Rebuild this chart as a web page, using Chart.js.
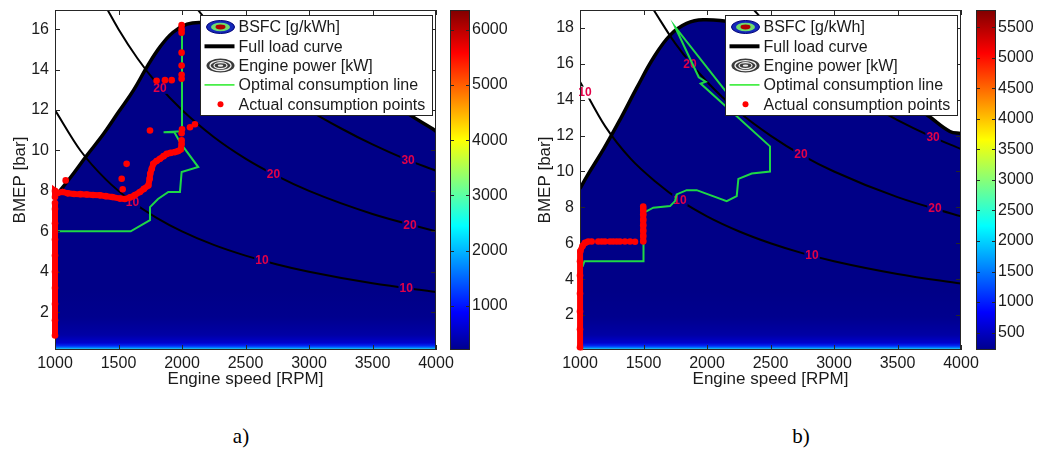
<!DOCTYPE html>
<html>
<head>
<meta charset="utf-8">
<title>BSFC maps</title>
<script src="https://cdn.jsdelivr.net/npm/chart.js@4.4.1/dist/chart.umd.min.js"></script>
<style>
  html, body { margin: 0; padding: 0; background: #fff; }
  #page { position: relative; width: 1037px; height: 458px; overflow: hidden; }
  canvas { position: absolute; top: 0; }
  .caption { position: absolute; top: 424px; width: 40px; text-align: center;
             font: 21px "Liberation Serif", "Times New Roman", serif; color: #000; }
</style>
</head>
<body>
<div id="page">
  <canvas id="mapA" width="460" height="400" style="left:0"></canvas>
  <canvas id="barA" width="90" height="400" style="left:440px"></canvas>
  <canvas id="mapB" width="460" height="400" style="left:525px"></canvas>
  <canvas id="barB" width="71" height="400" style="left:966px"></canvas>
  <div class="caption" style="left:221px">a)</div>
  <div class="caption" style="left:781px">b)</div>
</div>
<script>
// ---- axes ----
const rpmRange = [1000, 4000];
const rpmTicks = [1000, 1500, 2000, 2500, 3000, 3500, 4000];
const bmepRangeA = [0.13, 16.95];
const bmepTicksA = [2, 4, 6, 8, 10, 12, 14, 16];
const bmepRangeB = [0.05, 19.0];
const bmepTicksB = [2, 4, 6, 8, 10, 12, 14, 16, 18];
const bsfcRangeA = [200, 6360];
const bsfcTicksA = [1000, 2000, 3000, 4000, 5000, 6000];
const bsfcRangeB = [216, 5780];
const bsfcTicksB = [500, 1000, 1500, 2000, 2500, 3000, 3500, 4000, 4500, 5000, 5500];

const legendLabels = ['BSFC [g/kWh]', 'Full load curve', 'Engine power [kW]',
  'Optimal consumption line', 'Actual consumption points'];

// ---- engine a) ----  [rpm, bmep]
const fullLoadA = [[1000, 7.7], [1120, 8.65], [1250, 9.75], [1380, 10.8], [1500, 11.9], [1620, 13.0],
  [1730, 14.2], [1830, 15.15], [1930, 15.85], [2040, 16.25], [2150, 16.33], [2300, 16.2], [2600, 15.7],
  [3000, 14.8], [3400, 13.5], [3795, 11.76], [3966, 11.1], [4000, 10.95]];
const power10A = [[1000, 12.0], [1200, 10.0], [1400, 8.57], [1600, 7.5], [1800, 6.67], [2000, 6.0],
  [2250, 5.33], [2500, 4.8], [2750, 4.36], [3000, 4.0], [3500, 3.43], [4000, 3.0]];
const power20A = [[1410, 17.0], [1500, 16.0], [1650, 14.55], [1800, 13.33], [2000, 12.0], [2250, 10.67],
  [2500, 9.6], [2750, 8.73], [3000, 8.0], [3500, 6.86], [4000, 6.0]];
const power30A = [[2120, 17.0], [2250, 16.0], [2500, 14.4], [2750, 13.1], [3000, 12.0], [3250, 11.1],
  [3500, 10.3], [3750, 9.6], [4000, 9.0]];
const powerLabelsA = [[1610, 7.45, '10'], [2630, 4.56, '10'], [3765, 3.2, '10'],
  [1827, 13.1, '20'], [2720, 8.82, '20'], [3795, 6.32, '20'], [3780, 9.52, '30']];
const optimalA = [[1000, 6.0], [1596, 6.0], [1748, 6.55], [1748, 7.2], [1811, 7.6], [1892, 7.95],
  [1984, 7.95], [1997, 8.93], [2128, 9.18], [1990, 10.35], [1940, 10.9], [1855, 10.9], [2000, 10.95],
  [2000, 15.9]];
const actualRunA1 = [[1000, 0.85], [1000, 1.6], [1000, 2.4], [1000, 3.2], [1000, 4.0], [1000, 4.8],
  [1000, 5.6], [1000, 6.4], [1000, 7.1], [1000, 7.4]];
const actualRunA2 = [[1000, 7.7], [1000, 8.0], [1020, 7.9], [1060, 7.95], [1100, 7.88], [1150, 7.85],
  [1200, 7.84], [1250, 7.82], [1300, 7.8], [1354, 7.78], [1400, 7.74], [1450, 7.7], [1512, 7.62],
  [1550, 7.6], [1591, 7.68], [1630, 7.8], [1669, 7.95], [1700, 8.1], [1735, 8.27], [1745, 8.6],
  [1750, 8.85], [1762, 9.1], [1774, 9.34], [1800, 9.48], [1827, 9.59], [1855, 9.72], [1880, 9.83],
  [1910, 9.88], [1945, 9.92], [1970, 9.97], [1990, 10.05], [1997, 10.33]];
const actualDotsA = [[1084, 8.52], [1533, 8.08], [1525, 8.6], [1564, 9.34], [1748, 10.99],
  [1997, 10.5], [1997, 10.85], [2000, 11.05], [2063, 11.15], [2102, 11.3], [1800, 13.45], [1866, 13.48],
  [1919, 13.48], [1997, 13.55], [1997, 13.75], [1997, 14.2], [1997, 14.84], [1997, 15.83], [1997, 16.0],
  [1997, 16.2]];

// ---- engine b) ----
const fullLoadB = [[1000, 9.05], [1060, 9.8], [1190, 11.3], [1320, 12.95], [1450, 14.7], [1580, 16.35],
  [1710, 17.6], [1840, 18.25], [1970, 18.45], [2200, 18.3], [2600, 17.4], [3000, 16.2], [3400, 14.6],
  [3730, 13.16], [3913, 12.23], [4000, 12.12]];
const power10B = [[1000, 15.0], [1200, 12.5], [1400, 10.7], [1600, 9.4], [1800, 8.33], [2000, 7.5],
  [2250, 6.67], [2500, 6.0], [2750, 5.45], [3000, 5.0], [3500, 4.29], [4000, 3.75]];
const power20B = [[1580, 19.0], [1750, 17.14], [2000, 15.0], [2250, 13.33], [2500, 12.0], [2750, 10.9],
  [3000, 10.0], [3500, 8.57], [4000, 7.5]];
const power30B = [[2370, 19.0], [2500, 18.0], [2750, 16.36], [3000, 15.0], [3250, 13.85], [3500, 12.86],
  [3750, 12.0], [4000, 11.25]];
const powerLabelsB = [[1039, 14.4, '10'], [1787, 8.42, '10'], [2827, 5.33, '10'],
  [1866, 16.0, '20'], [2740, 10.95, '20'], [3795, 7.95, '20'], [3780, 11.9, '30']];
const optimalB = [[1020, 4.7], [1035, 5.0], [1500, 5.0], [1500, 7.7], [1577, 7.98], [1709, 8.07],
  [1748, 8.35], [1761, 8.72], [1840, 8.96], [1919, 8.96], [2155, 8.35], [2234, 8.63], [2247, 9.59],
  [2352, 9.89], [2496, 10.0], [2496, 11.4], [1950, 14.9], [1990, 15.0], [1935, 15.25], [1748, 18.07],
  [2100, 14.9], [2200, 14.0]];
const actualRunB1 = [[1000, 0.2], [1000, 1.2], [1000, 2.2], [1000, 3.2], [1000, 4.2], [1000, 5.0],
  [1003, 5.55], [1020, 5.85], [1039, 6.02], [1065, 6.1]];
const actualRunB2 = [[1498, 6.1], [1498, 6.4], [1498, 6.7], [1498, 7.0], [1498, 7.3], [1498, 7.6],
  [1498, 7.85], [1498, 8.04]];
const actualDotsB = [[1092, 6.1], [1144, 6.1], [1171, 6.1], [1197, 6.1], [1236, 6.1], [1262, 6.1],
  [1289, 6.1], [1315, 6.1], [1354, 6.1], [1394, 6.1], [1433, 6.08]];

// ---- styling ----
const FONT = '"Liberation Sans", Arial, Helvetica, sans-serif';
const TEXT = '#1b1b1b';
const NAVY = 'rgb(0,0,135)';
const RED = 'rgb(255,0,0)';
const GREEN = 'rgb(30,215,70)';
const LABEL_RED = 'rgb(226,0,72)';

const pts = arr => arr.map(([x, y]) => ({ x, y }));

// BMEP on the full load curve at a given speed (linear between samples)
function loadAt(curve, rpm) {
  for (let i = 1; i < curve.length; i++) {
    if (rpm <= curve[i][0]) {
      const [x0, y0] = curve[i - 1], [x1, y1] = curve[i];
      return y0 + (y1 - y0) * (rpm - x0) / (x1 - x0);
    }
  }
  return curve[curve.length - 1][1];
}

// dark map colour with the high-BSFC strip at very low load
function mapFill(ctx) {
  const chart = ctx.chart, a = chart.chartArea;
  if (!a) return NAVY;
  const g = chart.ctx.createLinearGradient(0, a.bottom - 60, 0, a.bottom);
  g.addColorStop(0, NAVY);
  g.addColorStop(0.45, 'rgb(0,0,142)');
  g.addColorStop(0.75, 'rgb(0,0,165)');
  g.addColorStop(0.88, 'rgb(0,0,205)');
  g.addColorStop(0.93, 'rgb(0,40,245)');
  g.addColorStop(0.965, 'rgb(0,130,255)');
  g.addColorStop(0.985, 'rgb(40,220,230)');
  g.addColorStop(1, 'rgb(190,230,60)');
  return g;
}

// jet colormap for the colour bar
function jetFill(ctx) {
  const chart = ctx.chart, a = chart.chartArea;
  if (!a) return NAVY;
  const g = chart.ctx.createLinearGradient(0, a.bottom, 0, a.top);
  [[0, 'rgb(0,0,140)'], [0.111, 'rgb(0,0,255)'], [0.365, 'rgb(0,255,255)'],
   [0.619, 'rgb(255,255,0)'], [0.873, 'rgb(255,0,0)'], [1, 'rgb(128,0,0)']]
    .forEach(([o, c]) => g.addColorStop(o, c));
  return g;
}

// box outline plus inward tick marks on both sides
function drawFrame(chart, axes, len) {
  const { ctx, chartArea: a } = chart;
  ctx.save();
  ctx.strokeStyle = '#262626';
  ctx.lineWidth = 1;
  ctx.beginPath();
  for (const id of axes) {
    const s = chart.scales[id];
    for (const t of s.ticks) {
      const p = Math.round(s.getPixelForValue(t.value)) + 0.5;
      if (s.isHorizontal()) {
        ctx.moveTo(p, a.bottom); ctx.lineTo(p, a.bottom - len);
        ctx.moveTo(p, a.top); ctx.lineTo(p, a.top + len);
      } else {
        ctx.moveTo(a.left, p); ctx.lineTo(a.left + len, p);
        ctx.moveTo(a.right, p); ctx.lineTo(a.right - len, p);
      }
    }
  }
  ctx.stroke();
  ctx.strokeRect(Math.round(a.left) + 0.5, Math.round(a.top) + 0.5,
    Math.round(a.width) - 1, Math.round(a.height) - 1);
  ctx.restore();
}

function drawContourLabels(chart, labels, fullLoad) {
  const { ctx, scales: { x, y } } = chart;
  ctx.save();
  ctx.font = 'bold 12px ' + FONT;
  ctx.textAlign = 'center';
  ctx.textBaseline = 'middle';
  for (const [rpm, bmep, text] of labels) {
    const px = x.getPixelForValue(rpm), py = y.getPixelForValue(bmep);
    const w = ctx.measureText(text).width + 2;
    ctx.fillStyle = bmep > loadAt(fullLoad, rpm) ? '#fff' : NAVY;
    ctx.fillRect(px - w / 2, py - 6, w, 12);
    ctx.fillStyle = LABEL_RED;
    ctx.fillText(text, px, py + 0.5);
  }
  ctx.restore();
}

function drawLegendIcon(ctx, i, cx, cy) {
  const ell = (rx, ry) => { ctx.beginPath(); ctx.ellipse(cx, cy, rx, ry, 0, 0, Math.PI * 2); };
  if (i === 0) {
    ell(14, 6.5); ctx.fillStyle = 'rgb(20,40,185)'; ctx.fill();
    ctx.strokeStyle = 'rgb(0,0,120)'; ctx.lineWidth = 1; ctx.stroke();
    ell(9.5, 4.3); ctx.fillStyle = 'rgb(110,220,110)'; ctx.fill();
    ell(5, 2.4); ctx.fillStyle = 'rgb(175,0,0)'; ctx.fill();
  } else if (i === 1) {
    ctx.beginPath(); ctx.moveTo(cx - 16, cy); ctx.lineTo(cx + 14, cy);
    ctx.strokeStyle = '#000'; ctx.lineWidth = 4; ctx.stroke();
  } else if (i === 2) {
    ell(14, 7); ctx.fillStyle = '#3a3a3a'; ctx.fill();
    ctx.strokeStyle = '#eee'; ctx.lineWidth = 1.3;
    ell(10.5, 5); ctx.stroke();
    ell(6.5, 3); ctx.stroke();
    ell(2.8, 1.2); ctx.fillStyle = '#eee'; ctx.fill();
  } else if (i === 3) {
    ctx.beginPath(); ctx.moveTo(cx - 16, cy); ctx.lineTo(cx + 14, cy);
    ctx.strokeStyle = 'rgb(40,235,40)'; ctx.lineWidth = 1.5; ctx.stroke();
  } else {
    ell(3, 3); ctx.fillStyle = RED; ctx.fill();
  }
}

function drawLegend(chart) {
  const { ctx, chartArea: a } = chart;
  ctx.save();
  ctx.font = '16px ' + FONT;
  const textW = Math.max(...legendLabels.map(t => ctx.measureText(t).width));
  const w = Math.round(38 + textW + 7), h = 100;
  const left = Math.round(a.right - 4 - w) + 0.5, top = Math.round(a.top) + 5.5;
  ctx.fillStyle = '#fff';
  ctx.fillRect(left, top, w, h);
  ctx.strokeStyle = '#222';
  ctx.lineWidth = 1;
  ctx.strokeRect(left, top, w, h);
  legendLabels.forEach((t, i) => {
    const cy = top + 11.5 + i * 19.3, cx = left + 20;
    drawLegendIcon(ctx, i, cx, cy);
    ctx.fillStyle = TEXT;
    ctx.textAlign = 'left';
    ctx.textBaseline = 'middle';
    ctx.fillText(t, left + 38, cy + 1);
  });
  ctx.restore();
}

const mapOverlays = {
  id: 'mapOverlays',
  beforeDatasetsDraw(chart) { chart.$frameDone = false; },
  beforeDatasetDraw(chart, args, opts) {
    const label = chart.data.datasets[args.index].label;
    if (label === 'Optimal consumption line') drawContourLabels(chart, opts.labels, opts.fullLoad);
    if (label === 'Actual consumption points' && !chart.$frameDone) {
      drawFrame(chart, ['x', 'y'], 5);
      chart.$frameDone = true;
    }
  },
  afterDraw(chart) { drawLegend(chart); }
};

const barFrame = {
  id: 'barFrame',
  afterDraw(chart) { drawFrame(chart, ['y'], 4); }
};

function mapChart(id, d) {
  const tickFont = { family: FONT, size: 16 };
  const titleFont = { family: FONT, size: 17 };
  const contour = (p, i) => ({
    label: 'Engine power [kW]', data: pts(p), borderColor: '#000', borderWidth: 2,
    pointRadius: 0, cubicInterpolationMode: 'monotone', fill: false, clip: 0, order: 9 - i
  });
  const run = r => ({
    label: 'Actual consumption points', data: pts(r), borderColor: RED, borderWidth: 6,
    pointRadius: 3.3, pointBackgroundColor: RED, pointBorderWidth: 0, tension: 0,
    fill: false, clip: false, order: 2
  });
  return new Chart(document.getElementById(id), {
    type: 'line',
    data: {
      datasets: [
        { label: 'Full load curve', data: pts(d.fullLoad), borderColor: '#000', borderWidth: 3.5,
          pointRadius: 0, tension: 0.4, fill: 'start',
          backgroundColor: mapFill, clip: 0, order: 10 },
        ...d.power.map(contour),
        { label: 'Optimal consumption line', data: pts(d.optimal), borderColor: GREEN, borderWidth: 2,
          pointRadius: 0, tension: 0, fill: false, clip: 0, order: 3 },
        ...d.runs.map(run),
        { label: 'Actual consumption points', data: pts(d.dots), showLine: false, pointRadius: 3.3,
          pointBackgroundColor: RED, pointBorderWidth: 0, clip: false, order: 1 }
      ]
    },
    options: {
      responsive: false,
      animation: false,
      events: [],
      layout: { padding: { left: 0, top: 10, right: 24, bottom: 0 } },
      scales: {
        x: {
          type: 'linear', bounds: 'data', min: rpmRange[0], max: rpmRange[1],
          afterBuildTicks: s => { s.ticks = rpmTicks.map(v => ({ value: v })); },
          afterFit: s => { s.height = 50; s.paddingLeft = 0; s.paddingRight = 0; },
          grid: { display: false, drawTicks: false }, border: { display: false },
          ticks: { padding: 4, autoSkip: false, maxRotation: 0, font: tickFont, color: TEXT,
                   callback: v => String(v) },
          title: { display: true, text: 'Engine speed [RPM]', font: titleFont, color: TEXT,
                   padding: { top: 0, bottom: 10 } }
        },
        y: {
          type: 'linear', bounds: 'data', min: d.yRange[0], max: d.yRange[1],
          afterBuildTicks: s => { s.ticks = d.yTicks.map(v => ({ value: v })); },
          afterFit: s => { s.width = 55; s.paddingTop = 0; s.paddingBottom = 0; },
          grid: { display: false, drawTicks: false }, border: { display: false },
          ticks: { padding: 6, autoSkip: false, font: tickFont, color: TEXT, callback: v => String(v) },
          title: { display: true, text: 'BMEP [bar]', font: titleFont, color: TEXT,
                   padding: { top: 10, bottom: 0 } }
        }
      },
      plugins: {
        legend: { display: false },
        tooltip: { enabled: false },
        mapOverlays: { labels: d.powerLabels, fullLoad: d.fullLoad }
      }
    },
    plugins: [mapOverlays]
  });
}

function colorBar(id, range, ticks, axisWidth) {
  return new Chart(document.getElementById(id), {
    type: 'bar',
    data: {
      labels: [''],
      datasets: [{ data: [range], backgroundColor: jetFill, borderWidth: 0,
                   barPercentage: 1, categoryPercentage: 1 }]
    },
    options: {
      responsive: false,
      animation: false,
      events: [],
      layout: { padding: { left: 10, top: 10, right: 0, bottom: 50 } },
      scales: {
        x: { display: false },
        y: {
          position: 'right', bounds: 'data', min: range[0], max: range[1],
          afterBuildTicks: s => { s.ticks = ticks.map(v => ({ value: v })); },
          afterFit: s => { s.width = axisWidth; s.paddingTop = 0; s.paddingBottom = 0; },
          grid: { display: false, drawTicks: false }, border: { display: false },
          ticks: { padding: 2, autoSkip: false, font: { family: FONT, size: 16 }, color: TEXT,
                   callback: v => String(v) }
        }
      },
      plugins: { legend: { display: false }, tooltip: { enabled: false } }
    },
    plugins: [barFrame]
  });
}

mapChart('mapA', {
  yRange: bmepRangeA, yTicks: bmepTicksA, fullLoad: fullLoadA,
  power: [power10A, power20A, power30A], powerLabels: powerLabelsA,
  optimal: optimalA, runs: [actualRunA1, actualRunA2], dots: actualDotsA
});
mapChart('mapB', {
  yRange: bmepRangeB, yTicks: bmepTicksB, fullLoad: fullLoadB,
  power: [power10B, power20B, power30B], powerLabels: powerLabelsB,
  optimal: optimalB, runs: [actualRunB1, actualRunB2], dots: actualDotsB
});
colorBar('barA', bsfcRangeA, bsfcTicksA, 60);
colorBar('barB', bsfcRangeB, bsfcTicksB, 41);
</script>
</body>
</html>
